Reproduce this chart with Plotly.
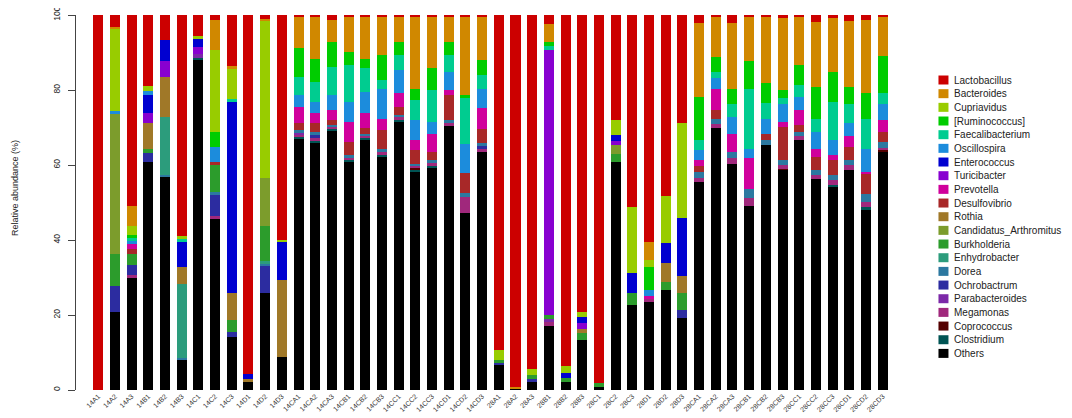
import plotly.graph_objects as go

samples = ["14A1", "14A2", "14A3", "14B1", "14B2", "14B3", "14C1", "14C2", "14C3", "14D1", "14D2", "14D3",
           "14CA1", "14CA2", "14CA3", "14CB1", "14CB2", "14CB3", "14CC1", "14CC2", "14CC3", "14CD1", "14CD2", "14CD3",
           "28A1", "28A2", "28A3", "28B1", "28B2", "28B3", "28C1", "28C2", "28C3", "28D1", "28D2", "28D3",
           "28CA1", "28CA2", "28CA3", "28CB1", "28CB2", "28CB3", "28CC1", "28CC2", "28CC3", "28CD1", "28CD2", "28CD3"]

Z12 = [0] * 12

Others = [0, 20.8, 29.8, 60.9, 56.9, 8.2, 88.0, 45.8, 14.2, 2.2, 25.8, 8.9,
          67.1, 65.8, 69.3, 60.9, 66.7, 62.2, 71.6, 58.2, 59.1, 70.4, 47.1, 63.6,
          6.7, 0.4, 2.2, 17.1, 2.2, 13.3, 0.9, 60.7, 22.7, 23.6, 26.7, 19.1,
          55.6, 69.8, 60.4, 49.1, 65.3, 58.7, 66.8, 56.2, 54.2, 58.7, 48.0, 63.6]
Clostridium = ([0, 0, 0, 0, 0, 0, 0.6, 0, 0, 0, 0, 0] +
               [0.5, 0.6, 0.4, 0.5, 0.5, 0.6, 0.5, 0.7, 0.6, 0, 0, 0] + Z12 +
               [0, 0, 0, 0, 0, 0, 0, 0, 0.6, 0, 0.7, 0])
Coprococcus = (Z12 + [0, 0, 0, 0, 0, 0, 0, 0.3, 0, 0, 0, 0] + Z12 +
               [0, 0, 0, 0, 0, 0.3, 0, 0, 0, 0, 0, 0.4])
Megamonas = ([0, 0, 0.9, 0, 0, 0, 0, 0.5, 0, 0, 0, 0] +
             [0.6, 0.8, 0.5, 0.6, 0.6, 0.8, 0.6, 0.5, 0.8, 0.8, 4.5, 0.7] +
             [0, 0, 0, 1.0, 0, 0, 0, 0, 0, 0.8, 0, 0] +
             [1.0, 1.2, 1.5, 2.0, 0, 0.9, 1.0, 1.2, 1.2, 1.2, 1.5, 0.6])
Parabacteroides = ([0, 0, 0, 0, 0, 0, 1.0, 0, 0, 0, 0, 0] +
                   [0.4, 0, 0, 0, 0, 0, 0, 0, 0, 0, 0, 0] +
                   [0, 0, 0, 0.9, 0, 0, 0, 0, 0, 0, 0, 0] + Z12)
Ochrobactrum = ([0, 6.9, 2.6, 2.2, 0, 0, 0, 5.7, 1.4, 0, 7.5, 0] +
                [0, 0.9, 0, 0, 0, 0, 0, 0, 0, 0, 0, 0.7] +
                [0.6, 0, 0.8, 0, 0, 0, 0, 0, 0, 0, 0, 2.2] + Z12)
Dorea = ([0, 0, 0, 0, 0.5, 0.4, 0, 0.7, 0, 0, 0.5, 0] +
         [0.7, 0.8, 0.5, 0.7, 0.6, 0.8, 0.6, 0.7, 0.8, 0.8, 1.0, 0.8] + Z12 +
         [1.6, 1.4, 1.7, 2.4, 1.5, 1.4, 1.1, 1.3, 1.3, 1.4, 2.2, 1.6])
Enhydrobacter = [0, 0, 0, 0, 15.3, 19.8, 0, 0, 0, 0, 0.5, 0] + Z12 + Z12 + Z12
Burkholderia = ([0, 8.7, 3.1, 1.3, 0, 0, 0, 7.3, 3.1, 0, 9.5, 0] + Z12 +
                [0.7, 0, 1.0, 1.0, 0.9, 1.8, 0.9, 2.3, 3.1, 0, 2.2, 4.5] + Z12)
Candidatus_Arthromitus = ([0, 37.4, 0, 0, 0, 0, 0, 0, 0, 0, 12.8, 0] + Z12 +
                          [0, 0, 0, 0, 0, 0, 0, 2.3, 0, 0, 0, 0] + Z12)
Rothia = ([0, 0, 0, 6.7, 10.9, 4.5, 0, 0, 7.1, 0.8, 0, 20.4] + Z12 +
          [0, 0, 0, 0, 0, 1.3, 0, 0, 0, 0, 4.9, 4.6] + Z12)
Desulfovibrio = ([0, 0, 1.1, 0, 0, 0, 0, 0.9, 0, 0, 0, 0] +
                 [1.8, 2.2, 1.3, 3.5, 1.4, 4.9, 2.3, 3.6, 2.3, 6.7, 5.2, 3.7] + Z12 +
                 [1.5, 2.3, 0, 0, 1.6, 8.9, 1.8, 3.5, 4.0, 3.6, 5.4, 2.7])
Prevotella = ([0, 0, 1.4, 0, 0, 0, 0, 0, 0, 0, 0, 0] +
              [4.5, 2.7, 2.7, 5.4, 4.0, 3.1, 3.5, 2.7, 4.8, 1.3, 0, 5.6] +
              [0, 0, 0, 0, 0, 0, 0, 0, 0, 0.8, 0, 0] +
              [1.6, 5.5, 4.8, 8.3, 0, 1.4, 4.0, 2.0, 1.4, 2.8, 0.4, 3.1])
Turicibacter = ([0, 0, 0, 2.7, 4.2, 0, 2.0, 0, 0, 0, 0, 0] + Z12 +
                [0, 0, 0, 70.8, 0, 1.5, 0, 1.2, 0, 0, 0, 0] + Z12)
Enterococcus = ([0, 0, 0, 4.9, 5.5, 6.7, 2.2, 0, 51.1, 1.4, 0, 10.3] + Z12 +
                [0, 0, 0, 0, 1.5, 1.5, 0, 1.5, 5.3, 0, 5.3, 15.4] + Z12)
Oscillospira = ([0, 0.5, 0.8, 1.0, 0, 0, 0, 4.0, 0, 0, 0, 0] +
                [3.1, 3.1, 4.0, 5.3, 5.8, 8.0, 6.2, 5.3, 3.2, 4.9, 7.8, 5.3] +
                [0, 0, 0, 0, 0, 0, 0, 0, 0, 1.5, 0, 0] +
                [2.7, 2.9, 4.3, 2.6, 4.0, 4.8, 3.5, 4.7, 4.1, 3.4, 6.2, 4.3])
Faecalibacterium = ([0, 0, 0.8, 0, 0, 0.6, 0, 0, 0.7, 0, 0, 0] +
                    [4.7, 5.3, 7.5, 9.8, 6.2, 2.4, 4.0, 5.3, 8.4, 4.4, 12.2, 3.6] +
                    [0, 0, 0, 1.0, 0, 0, 0, 0, 0, 0, 0, 0] +
                    [2.8, 1.8, 3.7, 16.0, 4.2, 1.6, 3.1, 3.5, 10.1, 5.2, 8.0, 3.0])
Ruminococcus = ([0, 0, 0.9, 0, 0, 0, 0, 4.0, 0, 0, 0, 0] +
                [7.7, 6.2, 6.7, 3.5, 2.4, 6.5, 3.6, 3.1, 5.8, 3.6, 1.0, 4.0] +
                [0, 0, 0, 1.1, 0, 0, 0, 0, 0, 6.2, 0, 0] +
                [11.4, 3.8, 4.0, 7.4, 5.4, 2.0, 5.4, 8.3, 8.0, 4.4, 6.9, 9.8])
Cupriavidus = ([0, 22.0, 2.3, 1.4, 0, 0.8, 0.5, 21.9, 8.2, 0, 41.9, 0.5] + Z12 +
               [2.7, 0, 1.5, 0, 1.8, 1.5, 0, 4.0, 17.8, 1.8, 12.6, 25.5] + Z12)
Bacteroides = ([0, 0.4, 5.3, 0, 0, 0, 0, 7.9, 0.5, 0, 0.5, 0] +
               [8.5, 11.2, 5.9, 9.5, 11.5, 10.3, 6.8, 19.2, 13.9, 6.8, 20.9, 11.4] +
               [0, 0.3, 0, 4.7, 0, 0, 0, 0, 0, 4.9, 0, 0] +
               [19.6, 11.0, 17.4, 11.9, 17.7, 19.1, 13.0, 17.5, 14.2, 17.8, 19.5, 10.6])
Lactobacillus = ([100, 3.3, 51.0, 18.9, 6.7, 59.0, 5.7, 1.3, 13.7, 95.6, 1.0, 59.9] +
                 [0.4, 0.4, 1.2, 0.3, 0.3, 0.4, 0.3, 0.4, 0.3, 0.3, 0.3, 0.6] +
                 [89.3, 99.3, 94.5, 2.4, 93.6, 79.1, 98.2, 28.0, 51.1, 60.4, 48.3, 28.7] +
                 [2.2, 0.3, 2.2, 0.3, 0.3, 0.9, 0.3, 1.8, 0.9, 1.5, 1.2, 0.3])

# stacking order bottom -> top : (legend name, values, colour)
layers = [
    ("Others", Others, "#000000"),
    ("Clostridium", Clostridium, "#005454"),
    ("Coprococcus", Coprococcus, "#540000"),
    ("Megamonas", Megamonas, "#A0287C"),
    ("Parabacteroides", Parabacteroides, "#7C28A8"),
    ("Ochrobactrum", Ochrobactrum, "#2C2CA0"),
    ("Dorea", Dorea, "#2C78A0"),
    ("Enhydrobacter", Enhydrobacter, "#2C9C7C"),
    ("Burkholderia", Burkholderia, "#2C9C2C"),
    ("Candidatus_Arthromitus", Candidatus_Arthromitus, "#7C9C2C"),
    ("Rothia", Rothia, "#A07828"),
    ("Desulfovibrio", Desulfovibrio, "#A82828"),
    ("Prevotella", Prevotella, "#D0009C"),
    ("Turicibacter", Turicibacter, "#8800D0"),
    ("Enterococcus", Enterococcus, "#0000D0"),
    ("Oscillospira", Oscillospira, "#1C8CDC"),
    ("Faecalibacterium", Faecalibacterium, "#00CC90"),
    ("[Ruminococcus]", Ruminococcus, "#00CC00"),
    ("Cupriavidus", Cupriavidus, "#98CC00"),
    ("Bacteroides", Bacteroides, "#D08800"),
    ("Lactobacillus", Lactobacillus, "#CC0000"),
]

FONT = "Liberation Sans, Arial, sans-serif"
OFF = 8  # page body margin
W, H = 1072 - OFF, 418 - OFF
ML, MT, MB = 76 - OFF, 15 - OFF, 28
PW = 815.5
PH = H - MT - MB
MR = W - ML - PW


def px_x(x):
    return (x - OFF - ML) / PW


def px_y(y):
    return 1 - (y - OFF - MT) / PH


fig = go.Figure()
for name, vals, col in layers:
    fig.add_trace(go.Bar(x=samples, y=vals, name=name, marker=dict(color=col, line=dict(width=0)),
                         showlegend=False))

# manual legend (top -> bottom)
shapes, annos = [], []
for i, (name, vals, col) in enumerate(reversed(layers)):
    ypx = 80 + i * 13.67
    yc = px_y(ypx)
    x0 = px_x(939)
    shapes.append(dict(type="rect", xref="paper", yref="paper",
                       x0=x0, x1=x0 + 10 / PW, y0=yc - 4.5 / PH, y1=yc + 4.5 / PH,
                       fillcolor=col, line=dict(width=0)))
    annos.append(dict(x=px_x(953), y=yc, xref="paper", yref="paper", text=name,
                      showarrow=False, xanchor="left", yanchor="middle",
                      font=dict(family=FONT, size=10, color="#222")))

annos.append(dict(x=px_x(15), y=px_y(188), xref="paper", yref="paper",
                  text="Relative abundance (%)", textangle=-90, showarrow=False,
                  xanchor="center", yanchor="middle", font=dict(family=FONT, size=9, color="#222")))

fig.update_layout(
    width=W, height=H, barmode="stack", bargap=0.4,
    margin=dict(l=ML, r=MR, t=MT, b=MB, autoexpand=False),
    plot_bgcolor="white", paper_bgcolor="white",
    shapes=shapes, annotations=annos,
    font=dict(family=FONT, color="#222"),
)
fig.update_xaxes(type="category", range=[-1.335, 47.5], showline=False, ticks="",
                 tickangle=-45, tickfont=dict(size=7, color="#333"), showgrid=False,
                 automargin=False)
fig.update_yaxes(range=[0, 100], tickvals=[0, 20, 40, 60, 80, 100], tickangle=-90,
                 showline=True, linecolor="#444", linewidth=1, ticks="outside", ticklen=7,
                 tickcolor="#444", tickfont=dict(size=8.5, color="#222"), showgrid=False,
                 zeroline=False, automargin=False, ticklabelstandoff=5,
                 ticklabeloverflow="allow")

fig.write_html("out.html")
